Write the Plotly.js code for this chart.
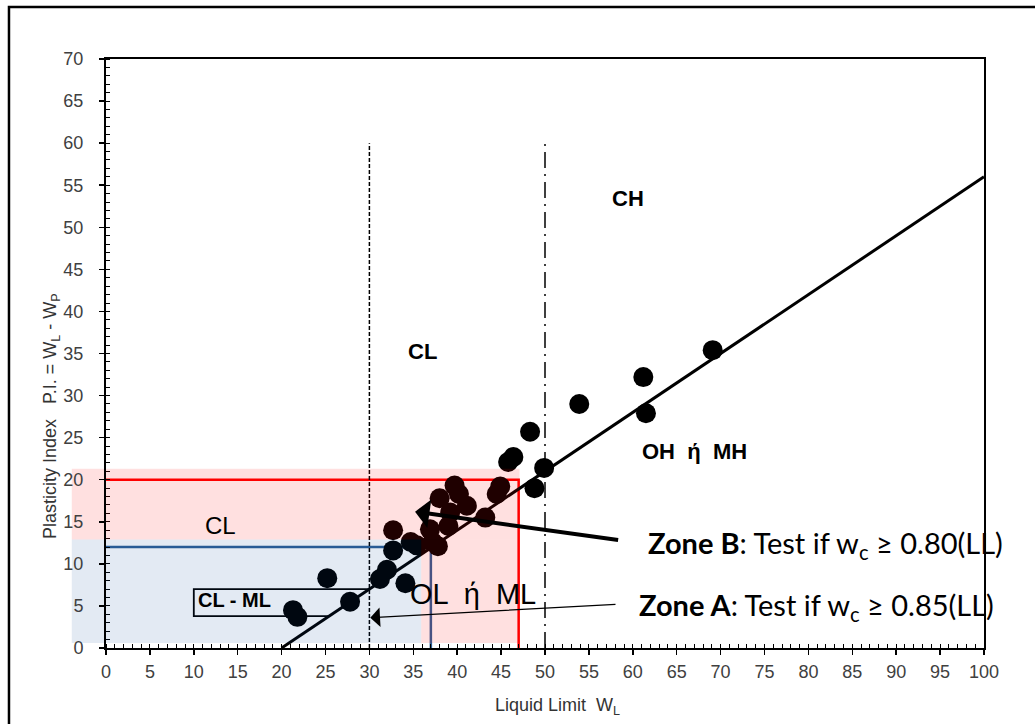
<!DOCTYPE html>
<html>
<head>
<meta charset="utf-8">
<script src="https://cdn.plot.ly/plotly-3.0.1.min.js"></script>
<style>
  html, body { margin: 0; padding: 0; background: #fff; }
  #chart { width: 1035px; height: 724px; }
</style>
</head>
<body>
<div id="chart"></div>
<script>
// ---- data ----
const liquidLimit = [21.3, 21.8, 25.2, 27.8, 31.2, 32.0, 32.7, 32.7, 34.1, 34.7, 35.4,
  36.9, 37.2, 37.8, 38.0, 39.0, 39.2, 39.7, 40.2, 41.1, 43.2, 44.5, 44.9,
  45.8, 46.4, 48.3, 48.8, 49.9, 53.9, 61.2, 61.5, 69.1];
const plasticityIndex = [4.5, 3.7, 8.3, 5.5, 8.2, 9.3, 11.6, 14.0, 7.7, 12.6, 12.2,
  14.1, 12.6, 12.1, 17.8, 14.5, 16.1, 19.3, 18.3, 16.9, 15.5, 18.3, 19.2,
  22.1, 22.7, 25.7, 19.0, 21.4, 29.0, 32.2, 27.9, 35.4];

const aLineLL = [20, 100];
const aLinePI = [0, 56];

const boundaryLL = [30, 50];        // LL = 30 (dashed) and LL = 50 (dash-dot)
const boundaryTopPI = 60;

const zoneLL = [37, 47];            // Zone A, Zone B liquid-limit limits
const zonePI = [12, 20];            // Zone A, Zone B plasticity-index limits
const shadeLL = [35.9, 47.1];       // shaded areas (right edges)
const shadePI = [0.6, 12.9, 21.3];  // shaded areas (bottom, blue top, pink top)

const clmlLL = [25.4, 10, 10, 30];
const clmlPI = [3.8, 3.8, 7, 7];

const xTicks = [0,5,10,15,20,25,30,35,40,45,50,55,60,65,70,75,80,85,90,95,100];
const yTicks = [0,5,10,15,20,25,30,35,40,45,50,55,60,65,70];

// ---- layout constants ----
const ARIAL = 'Liberation Sans, Arial, sans-serif';
const CAL = 'Lato, Carlito, sans-serif';
const xMax = 100, yMax = 70;
const padLeftPaper = -0.039;

const traces = [
  {x: [0, zoneLL[1], zoneLL[1]], y: [zonePI[1], zonePI[1], 0], mode: 'lines',
   line: {color: '#ff0000', width: 2.5}, hoverinfo: 'skip'},
  {x: [0, zoneLL[0], zoneLL[0]], y: [zonePI[0], zonePI[0], 0], mode: 'lines',
   line: {color: '#2e5f96', width: 2.5}, hoverinfo: 'skip'},
  {x: [boundaryLL[0], boundaryLL[0]], y: [0, boundaryTopPI], mode: 'lines',
   line: {color: '#000', width: 1.5, dash: '4px,2px'}, hoverinfo: 'skip'},
  {x: [boundaryLL[1], boundaryLL[1]], y: [0, boundaryTopPI], mode: 'lines',
   line: {color: '#000', width: 1.5, dash: '16px,6px,2px,6px'}, hoverinfo: 'skip'},
  {x: clmlLL, y: clmlPI, mode: 'lines', line: {color: '#000', width: 1.8}, hoverinfo: 'skip'},
  {x: aLineLL, y: aLinePI, mode: 'lines', line: {color: '#000', width: 3}, hoverinfo: 'skip'},
  {x: liquidLimit, y: plasticityIndex, mode: 'markers', cliponaxis: false,
   marker: {color: '#000', size: 20}, hoverinfo: 'skip'}
];

const lbl = (x, y, text, size, bold) => ({
  x: x, y: y, xref: 'x', yref: 'y', text: bold ? '<b>' + text + '</b>' : text,
  showarrow: false, font: {family: ARIAL, size: size, color: '#000'}
});

const annotations = [
  lbl(59.5, 53.4, 'CH', 22, true),
  lbl(36.1, 35.2, 'CL', 22, true),
  lbl(13.0, 14.6, 'CL', 24, false),
  lbl(67.0, 23.4, 'OH  ή  MH', 22, true),
  lbl(41.8, 6.4, 'OL  ή  ML', 29, false),
  lbl(14.6, 5.7, 'CL - ML', 20, true),
  {x: 35.2, y: 16.2, ax: 58.5, ay: 12.8, axref: 'x', ayref: 'y', xref: 'x', yref: 'y',
   text: '', showarrow: true, arrowhead: 1, arrowsize: 1.2, arrowwidth: 4, arrowcolor: '#000'},
  {x: 30.1, y: 3.6, ax: 58.2, ay: 5.2, axref: 'x', ayref: 'y', xref: 'x', yref: 'y',
   text: '', showarrow: true, arrowhead: 1, arrowsize: 2.5, arrowwidth: 1.3, arrowcolor: '#000'},
  {x: 0.615, y: 0.175, xref: 'paper', yref: 'paper', xanchor: 'left', yanchor: 'middle',
   showarrow: false, text: '<b>Zone B</b>: Test if w<sub>c</sub> ≥ 0.80(LL)',
   font: {family: CAL, size: 29, color: '#000'}},
  {x: 0.605, y: 0.0713, xref: 'paper', yref: 'paper', xanchor: 'left', yanchor: 'middle',
   showarrow: false, text: '<b>Zone A</b>: Test if w<sub>c</sub> ≥ 0.85(LL)',
   font: {family: CAL, size: 29, color: '#000'}},
  {x: -0.0615, y: 0.394, xref: 'paper', yref: 'paper', xanchor: 'center', yanchor: 'middle',
   textangle: -90, showarrow: false,
   text: 'Plasticity Index   P.I. = W<sub>L</sub> - W<sub>P</sub>',
   font: {family: ARIAL, size: 18, color: '#333'}},
  {x: 0.514, y: -0.1, xref: 'paper', yref: 'paper', xanchor: 'center', yanchor: 'middle',
   showarrow: false, text: 'Liquid Limit  W<sub>L</sub>',
   font: {family: ARIAL, size: 18, color: '#333'}}
];

const PINK = 'rgb(255,0,0)', BLUE = 'rgb(0,60,145)';
const rect = (x0, x1, y0, y1, color, op, layer) => ({
  type: 'rect', xref: 'paper', yref: 'paper', x0: x0, x1: x1, y0: y0, y1: y1,
  fillcolor: color, opacity: op, line: {width: 0}, layer: layer
});

const shapes = [
  rect(padLeftPaper, 0, shadePI[1] / yMax, shadePI[2] / yMax, PINK, 0.12, 'below'),
  rect(padLeftPaper, 0, shadePI[0] / yMax, shadePI[1] / yMax, BLUE, 0.11, 'below'),
  rect(0, shadeLL[1] / xMax, shadePI[1] / yMax, shadePI[2] / yMax, PINK, 0.12, 'above'),
  rect(shadeLL[0] / xMax, shadeLL[1] / xMax, shadePI[0] / yMax, shadePI[1] / yMax, PINK, 0.12, 'above'),
  rect(0, shadeLL[0] / xMax, shadePI[0] / yMax, shadePI[1] / yMax, BLUE, 0.11, 'above'),
  {type: 'rect', xref: 'paper', yref: 'paper', x0: -0.1105, x1: 1.075, y0: -0.16, y1: 1.0883,
   line: {color: '#000', width: 2.5}, fillcolor: 'rgba(0,0,0,0)', layer: 'above'}
];

const axisCommon = {
  showline: true, linecolor: '#000', linewidth: 2, mirror: true,
  showgrid: false, zeroline: false,
  ticks: 'outside', ticklen: 5, tickwidth: 1.5, tickcolor: '#000',
  tickfont: {family: ARIAL, size: 18, color: '#404040'},
  minor: {dtick: 1, ticks: 'inside', ticklen: 4, tickwidth: 1, tickcolor: '#000'},
  fixedrange: true
};

const layout = {
  width: 1035, height: 724,
  margin: {l: 106, r: 51, t: 59, b: 76},
  paper_bgcolor: '#fff', plot_bgcolor: '#fff',
  showlegend: false,
  xaxis: Object.assign({}, axisCommon, {
    range: [0, 100], tickvals: xTicks, ticktext: xTicks.map(String),
    ticklabelstandoff: 1
  }),
  yaxis: Object.assign({}, axisCommon, {
    range: [0, 70], tickvals: yTicks, ticktext: yTicks.map(String),
    ticklabelstandoff: 12
  }),
  annotations: annotations,
  shapes: shapes
};

Plotly.newPlot('chart', traces, layout, {displayModeBar: false, staticPlot: true});
</script>
</body>
</html>
